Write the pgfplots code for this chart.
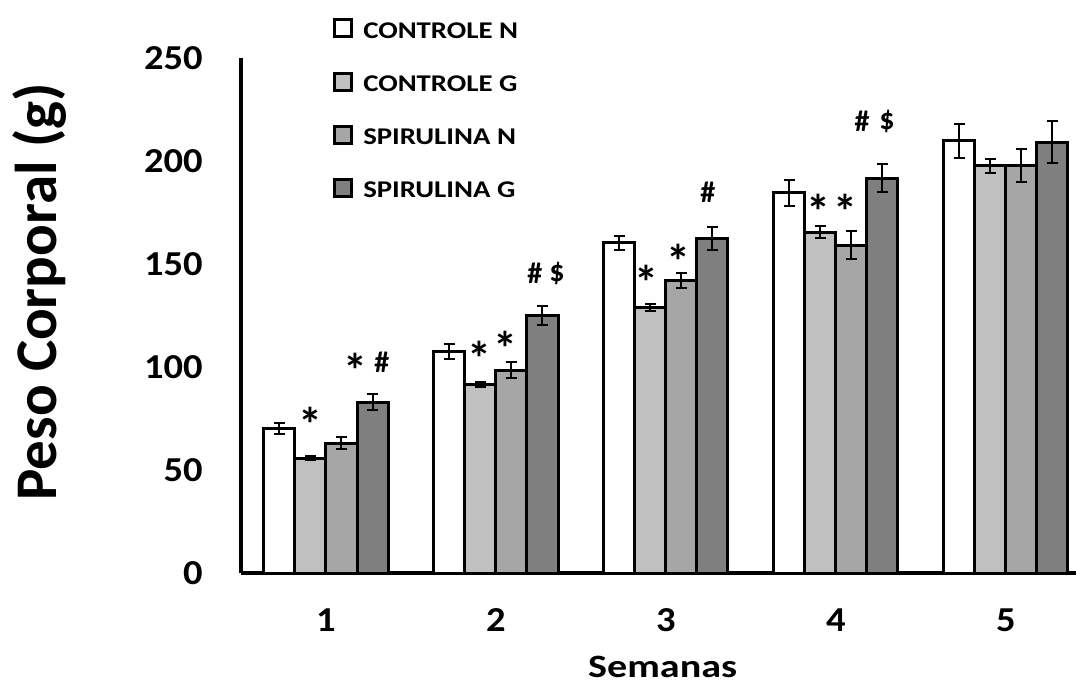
\documentclass[border=0pt]{standalone}
\usepackage{fontspec}
\setmainfont{Carlito}
\newfontfamily\tickf[FakeStretch=1.1]{Carlito}
\newfontfamily\legf[FakeStretch=1.2]{Carlito}
\newfontfamily\xlabf[FakeStretch=1.23]{Carlito}
\usepackage{pgfplots}
\usepackage{pgfplotstable}
\pgfplotsset{compat=1.18}
\definecolor{cgc}{RGB}{192,192,192}
\definecolor{snc}{RGB}{166,166,166}
\definecolor{sgc}{RGB}{127,127,127}
\pgfplotstableread{
x cn cne cg cge sn sne sg sge
1 70.0 2.7 55.8 0.8 63.0 3.0 83.0 4.0
2 107.5 3.6 91.5 1.0 98.5 4.0 125.0 4.4
3 160.3 3.4 129.0 1.7 141.8 3.6 162.2 5.6
4 184.5 6.5 165.4 2.9 159.2 7.0 191.7 6.8
5 209.8 8.3 197.6 3.6 197.6 8.0 209.2 10.4
}\data
\begin{document}
\begin{tikzpicture}
\begin{axis}[
 scale only axis, width=417.5pt, height=257.5pt,
 ybar=0pt, bar width=0.1824,
 xmin=0.5, xmax=5.412, ymin=0, ymax=250,
 axis x line*=bottom, axis y line*=left,
 axis line style={line width=2pt},
 xtick={1,2,3,4,5}, ytick={0,50,100,150,200,250},
 major tick length=0pt,
 /pgf/number format/assume math mode=true,
 ticklabel style={font=\tickf\fontsize{17.5}{17.5}\selectfont\bfseries},
 yticklabel style={inner sep=0pt, anchor=east, xshift=-19pt},
 xticklabel style={inner sep=0pt, anchor=north, yshift=-17.5pt},
 ylabel={Peso Corporal (g)},
 ylabel style={font=\fontsize{29.5}{29.5}\selectfont\bfseries, at={(axis description cs:-0.2084,0.546)}, anchor=south, rotate=0, inner sep=0pt},
 xlabel={Semanas},
 xlabel style={font=\xlabf\fontsize{16.3}{16.3}\selectfont\bfseries, at={(axis description cs:0.505,0)}, anchor=north, yshift=-41.5pt, inner sep=0pt},
 legend style={draw=none, fill=none, at={(0.110,1.0816)}, anchor=north west,
   font=\legf\fontsize{12}{12}\selectfont\bfseries, row sep=14.6pt, column sep=4pt, inner sep=0pt,
   nodes={inner sep=1pt, text height=10pt, text depth=0pt}},
 legend cell align=left,
 legend image code/.code={\draw[#1, line width=1.5pt, draw=black] (0pt,-4.25pt) rectangle (8.5pt,4.25pt);},
 error bars/error bar style={line width=1pt, solid, black},
 error bars/error mark options={rotate=90, black, line width=1pt, mark size=2.6pt},
]
\addplot[fill=white, draw=black, line width=1.5pt, error bars/.cd, y dir=both, y explicit] table[x=x, y=cn, y error=cne]{\data};
\addplot[fill=cgc, draw=black, line width=1.5pt, error bars/.cd, y dir=both, y explicit] table[x=x, y=cg, y error=cge]{\data};
\addplot[fill=snc, draw=black, line width=1.5pt, error bars/.cd, y dir=both, y explicit] table[x=x, y=sn, y error=sne]{\data};
\addplot[fill=sgc, draw=black, line width=1.5pt, error bars/.cd, y dir=both, y explicit] table[x=x, y=sg, y error=sge]{\data};
\legend{CONTROLE N, CONTROLE G, SPIRULINA N, SPIRULINA G}
\begin{scope}[every node/.style={inner sep=0pt},
  ast/.style={font=\fontsize{24}{24}\selectfont\bfseries, yshift=-4.2pt},
  sym/.style={font=\fontsize{15}{15}\selectfont\bfseries}]
\node[ast] at (axis cs:0.909,76.2) {*};
\node[ast] at (axis cs:1.176,102.4) {*};
\node[sym] at (axis cs:1.329,102.4) {\#};
\node[ast] at (axis cs:1.900,108.3) {*};
\node[ast] at (axis cs:2.053,113.1) {*};
\node[sym] at (axis cs:2.229,145.6) {\#};
\node[sym] at (axis cs:2.359,145.6) {\$};
\node[ast] at (axis cs:2.888,145.1) {*};
\node[ast] at (axis cs:3.071,155.3) {*};
\node[sym] at (axis cs:3.247,185.0) {\#};
\node[ast] at (axis cs:3.894,179.6) {*};
\node[ast] at (axis cs:4.053,179.6) {*};
\node[sym] at (axis cs:4.153,219.4) {\#};
\node[sym] at (axis cs:4.300,219.4) {\$};
\end{scope}
\end{axis}
\pgfresetboundingbox
\path[use as bounding box] (-120.5pt,-56.5pt) rectangle (417.5pt,286.5pt);
\end{tikzpicture}
\end{document}
